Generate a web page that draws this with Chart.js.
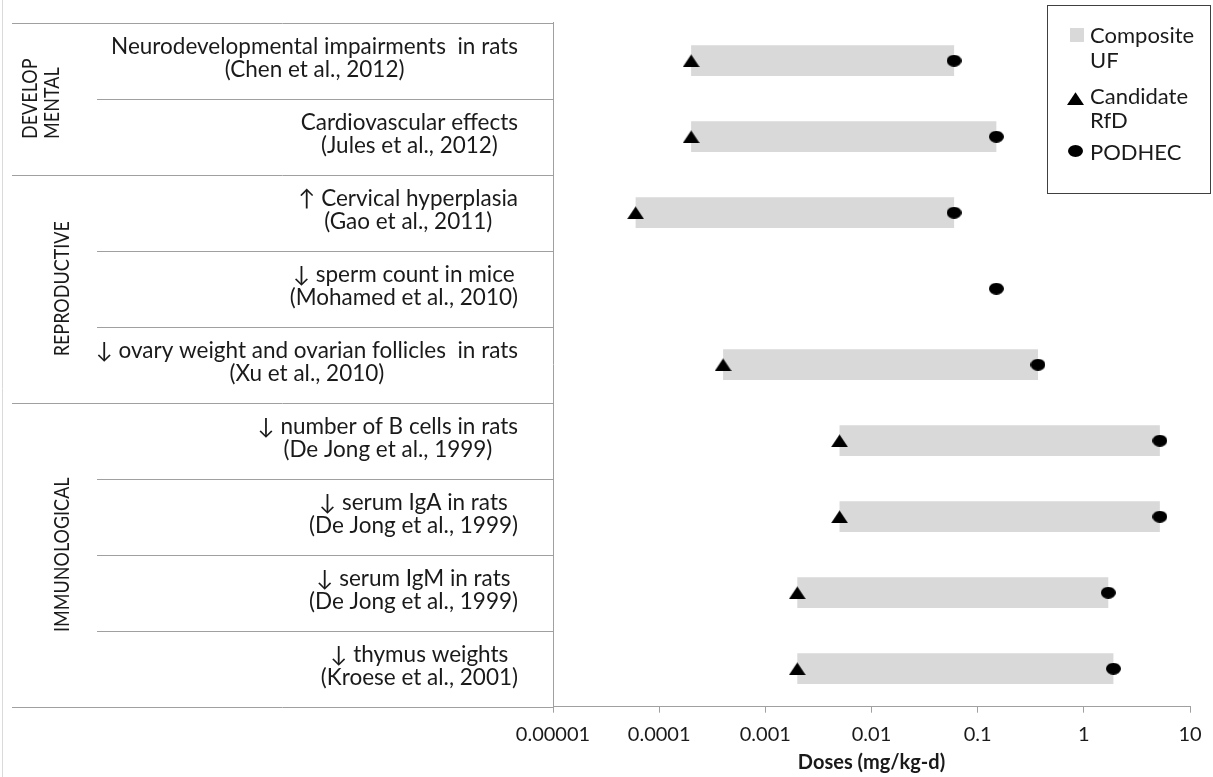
<!DOCTYPE html>
<html>
<head>
<meta charset="utf-8">
<title>Doses by endpoint</title>
<script src="https://cdn.jsdelivr.net/npm/chart.js@4.4.1/dist/chart.umd.min.js"></script>
<style>
  html, body { margin: 0; padding: 0; background: #ffffff; }
  #wrap { position: relative; width: 1213px; height: 777px; }
</style>
</head>
<body>
<div id="wrap"><canvas id="chart"></canvas></div>
<script>
// ---- data ----
const endpoints = [
  'Neurodevelopmental impairments  in rats',
  'Cardiovascular effects',
  '\u2191 Cervical hyperplasia',
  '\u2193 sperm count in mice',
  '\u2193 ovary weight and ovarian follicles  in rats',
  '\u2193 number of B cells in rats',
  '\u2193 serum IgA in rats',
  '\u2193 serum IgM in rats',
  '\u2193 thymus weights'
];
const citations = [
  '(Chen et al., 2012)',
  '(Jules et al., 2012)',
  '(Gao et al., 2011)',
  '(Mohamed et al., 2010)',
  '(Xu et al., 2010)',
  '(De Jong et al., 1999)',
  '(De Jong et al., 1999)',
  '(De Jong et al., 1999)',
  '(Kroese et al., 2001)'
];
const groupNames = [['DEVELOP', 'MENTAL'], ['REPRODUCTIVE'], ['IMMUNOLOGICAL']];
const groupSpans = [[0, 1], [2, 4], [5, 8]];

// mg/kg-d
const candidateRfD = [0.0002, 0.0002, 0.00006, null, 0.0004, 0.005, 0.005, 0.002, 0.002];
const podHEC       = [0.06,   0.15,   0.06,    0.15, 0.37,   5.2,   5.2,   1.7,   1.9];

const tickValues = [0.00001, 0.0001, 0.001, 0.01, 0.1, 1, 10];
const tickLabels = ['0.00001', '0.0001', '0.001', '0.01', '0.1', '1', '10'];
const axisTitle = 'Doses (mg/kg-d)';
const legendLabels = [['Composite', 'UF'], ['Candidate', 'RfD'], ['PODHEC']];

// ---- marker shapes ----
function makeTriangle(w, h) {
  const c = document.createElement('canvas');
  c.width = w; c.height = h;
  const g = c.getContext('2d');
  g.fillStyle = '#000';
  g.beginPath();
  g.moveTo(w / 2, 0.3);
  g.lineTo(w, h);
  g.lineTo(0, h);
  g.closePath();
  g.fill();
  return c;
}
function makeEllipse(w, h) {
  const c = document.createElement('canvas');
  c.width = w; c.height = h;
  const g = c.getContext('2d');
  g.fillStyle = '#000';
  g.beginPath();
  g.ellipse(w / 2, h / 2, w / 2, h / 2, 0, 0, Math.PI * 2);
  g.fill();
  return c;
}
const triangleMark = makeTriangle(17, 13);
const dotMark = makeEllipse(15, 12);

const BAR_GREY = '#d9d9d9';
const LINE_GREY = '#a0a0a0';
const TEXT = '#1a1a1a';

// ---- label table, legend box and axis title ----
const sideTable = {
  id: 'sideTable',
  afterDraw(chart) {
    const { ctx, chartArea, scales: { y } } = chart;
    const half = (y.getPixelForValue(1) - y.getPixelForValue(0)) / 2;
    const axisX = chartArea.left;
    ctx.save();

    // faint outer edge on the left
    ctx.lineWidth = 1;
    ctx.strokeStyle = '#dadada';
    ctx.beginPath(); ctx.moveTo(2.5, 0); ctx.lineTo(2.5, chart.height); ctx.stroke();

    // row dividers: full width at group boundaries, label column only inside a group
    const groupStarts = new Set(groupSpans.map(s => s[0]));
    ctx.strokeStyle = LINE_GREY;
    for (let i = 0; i <= endpoints.length; i++) {
      const edge = i < endpoints.length ? y.getPixelForValue(i) - half : y.getPixelForValue(i - 1) + half;
      const yy = Math.round(edge) + 0.5;
      const full = i === endpoints.length || groupStarts.has(i);
      ctx.beginPath(); ctx.moveTo(full ? 12 : 97, yy); ctx.lineTo(axisX, yy); ctx.stroke();
    }

    // endpoint names and references, centred on each other, block flush right
    ctx.fillStyle = TEXT;
    ctx.font = '22.5px Lato';
    ctx.textAlign = 'center';
    ctx.textBaseline = 'alphabetic';
    const labelRight = 518;
    endpoints.forEach((name, i) => {
      const cy = y.getPixelForValue(i);
      const w = Math.max(ctx.measureText(name).width, ctx.measureText(citations[i]).width);
      const cx = labelRight - w / 2;
      ctx.fillText(name, cx, cy - 7);
      ctx.fillText(citations[i], cx, cy + 16);
    });

    // rotated group names (slightly condensed lettering)
    ctx.font = '18px Lato';
    ctx.textAlign = 'left';
    groupNames.forEach((lines, g) => {
      const [a, b] = groupSpans[g];
      const cy = (y.getPixelForValue(a) + y.getPixelForValue(b)) / 2;
      const xs = lines.length === 2 ? [29.5, 51.5] : [61.5];
      const w = Math.max(...lines.map(t => ctx.measureText(t).width));
      lines.forEach((t, k) => {
        ctx.save();
        ctx.translate(xs[k] + 7, cy + w / 2);
        ctx.rotate(-Math.PI / 2);
        ctx.scale(1, 1.12);
        ctx.fillText(t, 0, 0);
        ctx.restore();
      });
    });

    // axis title, centred under the plot area
    ctx.font = 'bold 20px Lato';
    ctx.textAlign = 'center';
    ctx.fillText(axisTitle, (chartArea.left + chartArea.right) / 2, 769);

    // legend
    ctx.strokeStyle = '#404040';
    ctx.strokeRect(1047.5, 5.5, 163, 188);
    ctx.fillStyle = BAR_GREY;
    ctx.fillRect(1070, 28, 14, 14);
    ctx.drawImage(triangleMark, 1067, 92);
    ctx.drawImage(dotMark, 1068, 145);
    ctx.fillStyle = TEXT;
    ctx.font = '22px Lato';
    ctx.textAlign = 'left';
    const legendBaselines = [[43, 68], [104, 128], [160]];
    legendLabels.forEach((lines, k) => {
      lines.forEach((t, j) => ctx.fillText(t, 1090, legendBaselines[k][j]));
    });

    ctx.restore();
  }
};

Chart.defaults.font.family = 'Lato';
Chart.defaults.color = TEXT;

const rows = endpoints.map((_, i) => i);

new Chart(document.getElementById('chart'), {
  type: 'bar',
  data: {
    labels: endpoints,
    datasets: [
      {
        label: 'Composite UF',
        data: candidateRfD.map((r, i) => (r == null ? null : [r, podHEC[i]])),
        backgroundColor: BAR_GREY,
        borderWidth: 0,
        categoryPercentage: 1,
        barPercentage: 0.405,
        order: 3
      },
      {
        type: 'line',
        label: 'Candidate RfD',
        data: rows.filter(i => candidateRfD[i] != null).map(i => ({ x: candidateRfD[i], y: endpoints[i] })),
        showLine: false,
        pointStyle: triangleMark,
        pointRadius: 8,
        order: 1
      },
      {
        type: 'line',
        label: 'PODHEC',
        data: rows.map(i => ({ x: podHEC[i], y: endpoints[i] })),
        showLine: false,
        pointStyle: dotMark,
        pointRadius: 8,
        order: 1
      }
    ]
  },
  options: {
    indexAxis: 'y',
    responsive: true,
    maintainAspectRatio: false,
    animation: false,
    layout: { padding: { left: 553, right: 23, top: 22.7, bottom: 0 } },
    plugins: { legend: { display: false }, tooltip: { enabled: false } },
    scales: {
      x: {
        type: 'logarithmic',
        min: tickValues[0],
        max: tickValues[tickValues.length - 1],
        afterBuildTicks: s => { s.ticks = tickValues.map(v => ({ value: v })); },
        afterFit: s => { s.height = 70.3; },
        ticks: {
          autoSkip: false,
          maxRotation: 0,
          padding: 10,
          color: TEXT,
          font: { size: 20 },
          callback: (v) => tickLabels[tickValues.indexOf(v)] ?? ''
        },
        grid: { drawOnChartArea: false, drawTicks: true, tickLength: 6, color: LINE_GREY },
        border: { display: true, color: LINE_GREY, width: 1 }
      },
      y: {
        type: 'category',
        offset: true,
        afterFit: s => { s.width = 0; },
        ticks: { display: false },
        grid: { display: false, drawTicks: false },
        border: { display: true, color: LINE_GREY, width: 1 }
      }
    }
  },
  plugins: [sideTable]
});
</script>
</body>
</html>
